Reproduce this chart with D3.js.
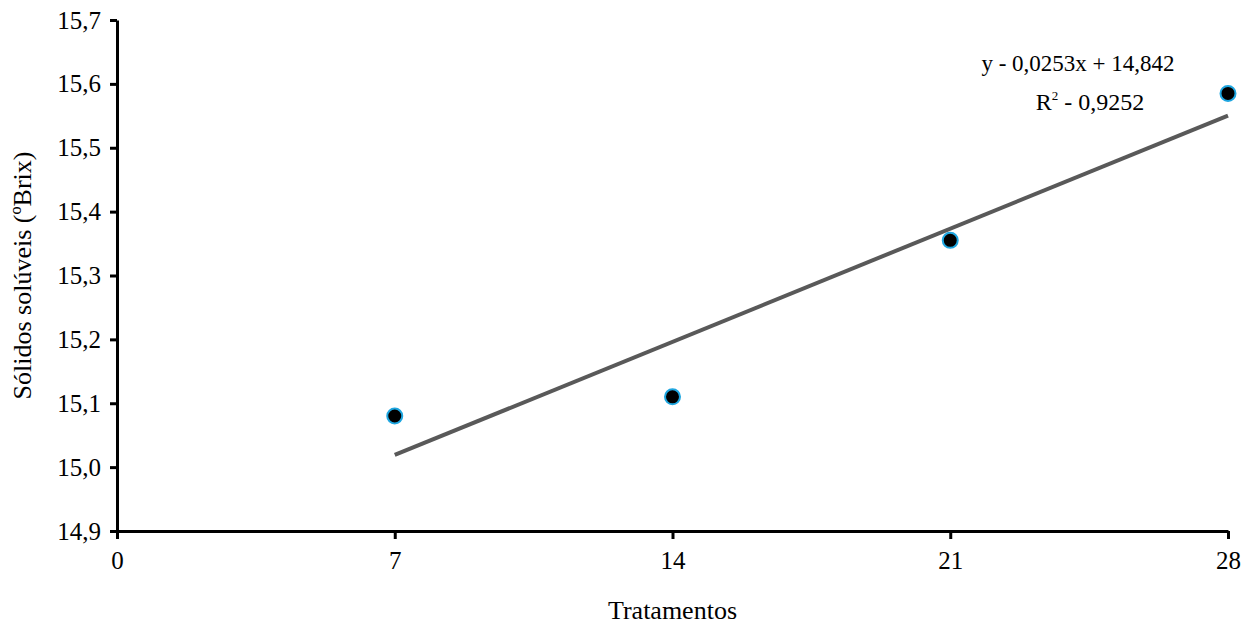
<!DOCTYPE html>
<html>
<head>
<meta charset="utf-8">
<script src="https://cdn.jsdelivr.net/npm/d3@7"></script>
<style>
  body { margin: 0; background: #fff; }
  text { font-family: "Liberation Serif", "Times New Roman", serif; }
</style>
</head>
<body>
<div id="chart"></div>
<script>
// data
var dias = [7, 14, 21, 28];
var solidos = [15.08, 15.11, 15.355, 15.585];
var yTicks = [14.9, 15.0, 15.1, 15.2, 15.3, 15.4, 15.5, 15.6, 15.7];
var xTicks = [0, 7, 14, 21, 28];
var coef = { a: 0.0253, b: 14.842 };

var width = 1251, height = 628;
var margin = {top: 20, right: 23, bottom: 97, left: 117};

var svg = d3.select("#chart")
  .append("svg")
    .attr("width", width)
    .attr("height", height);

var x = d3.scaleLinear()
  .domain([0, 28])
  .range([margin.left, width - margin.right]);

var y = d3.scaleLinear()
  .domain([14.9, 15.7])
  .range([height - margin.bottom, margin.top]);

var fmt = function (d) { return d3.format(".1f")(d).replace(".", ","); };

// X axis
var gx = svg.append("g")
  .attr("transform", "translate(0," + (height - margin.bottom) + ")")
  .call(d3.axisBottom(x).tickValues(xTicks).tickSize(8).tickPadding(12).tickSizeOuter(0));

// Y axis
var gy = svg.append("g")
  .attr("transform", "translate(" + margin.left + ",0)")
  .call(d3.axisLeft(y).tickValues(yTicks).tickFormat(fmt).tickSize(7).tickPadding(9).tickSizeOuter(0));

[gx, gy].forEach(function (g) {
  g.select(".domain").attr("stroke", "#000").attr("stroke-width", 3);
  g.selectAll(".tick line").attr("stroke", "#000").attr("stroke-width", 3);
  g.selectAll(".tick text").attr("fill", "#000").style("font-size", "25px");
});

// trend line
svg.append("line")
  .attr("x1", x(7)).attr("y1", y(coef.a * 7 + coef.b))
  .attr("x2", x(28)).attr("y2", y(coef.a * 28 + coef.b))
  .attr("stroke", "#595959")
  .attr("stroke-width", 4);

// dots
svg.append("g")
  .selectAll("circle")
  .data(dias)
  .enter()
  .append("circle")
    .attr("cx", function (d) { return x(d); })
    .attr("cy", function (d, i) { return y(solidos[i]); })
    .attr("r", 7.5)
    .attr("fill", "#000")
    .attr("stroke", "#1ea6e0")
    .attr("stroke-width", 2);

// equation
svg.append("text")
  .attr("x", 1078).attr("y", 71)
  .attr("text-anchor", "middle")
  .style("font-size", "23px")
  .text("y - 0,0253x + 14,842");

var r2 = svg.append("text")
  .attr("x", 1090).attr("y", 110)
  .attr("text-anchor", "middle")
  .style("font-size", "24px");
r2.append("tspan").text("R");
r2.append("tspan").attr("dy", -10).style("font-size", "13px").text("2");
r2.append("tspan").attr("dy", 10).text(" - 0,9252");

// axis labels
svg.append("text")
  .attr("x", x(14)).attr("y", 619)
  .attr("text-anchor", "middle")
  .style("font-size", "26px")
  .text("Tratamentos");

svg.append("text")
  .attr("transform", "translate(31," + y(15.3) + ") rotate(-90)")
  .attr("text-anchor", "middle")
  .style("font-size", "26px")
  .text("Sólidos solúveis (ºBrix)");
</script>
</body>
</html>
